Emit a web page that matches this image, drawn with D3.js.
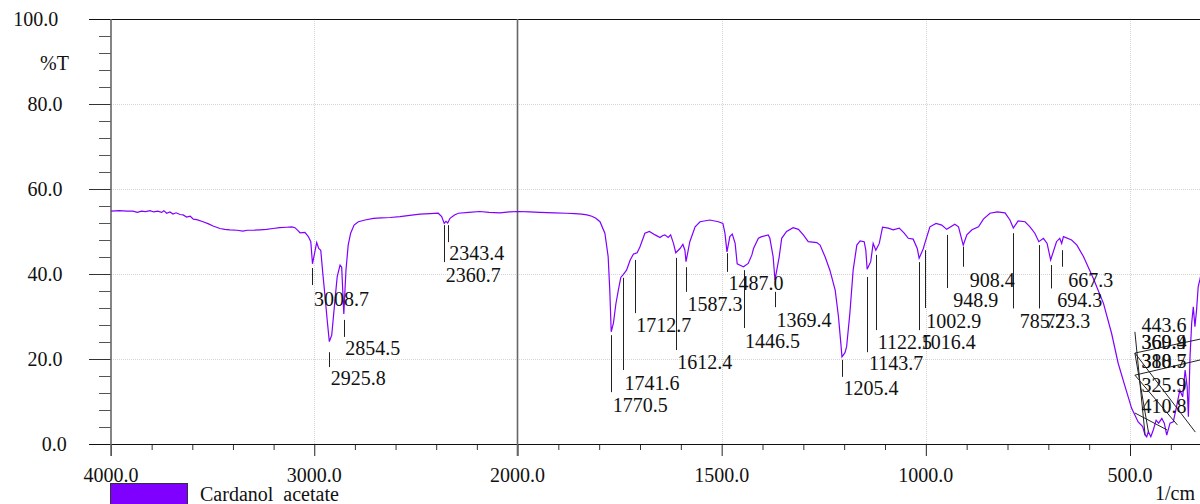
<!DOCTYPE html>
<html>
<head>
<meta charset="utf-8">
<script src="https://cdn.jsdelivr.net/npm/d3@7"></script>
<style>
  body { margin: 0; background: #fff; }
</style>
</head>
<body>
<svg id="chart" width="1200" height="504"></svg>
<script>
// spectrum: [wavenumber 1/cm, %T]
const spectrum = [
  [4000,54.8],[3960,54.9],[3920,54.8],[3892,54.8],[3870,54.5],[3850,54.8],[3830,54.7],[3808,54.9],
  [3790,54.6],[3770,54.8],[3751,54.5],[3740,54.9],[3726,54.3],[3710,54.6],[3695,54.1],[3680,54.4],
  [3660,54.0],[3645,53.9],[3628,53.4],[3610,53.6],[3595,52.9],[3578,52.8],[3547,52.3],[3520,51.8],
  [3498,51.3],[3464,50.7],[3440,50.5],[3415,50.4],[3380,50.3],[3351,50.1],[3330,50.3],[3300,50.3],
  [3267,50.4],[3235,50.5],[3203,50.7],[3170,50.9],[3136,51.0],[3110,51.1],[3095,50.9],[3080,50.2],
  [3070,49.7],[3046,49.8],[3029,48.8],[3017,47.6],[3008.7,42.4],[2988,47.4],[2978,46.0],[2968,45.6],
  [2958,40.2],[2947,34.7],[2936,29.0],[2925.8,24.1],[2914,25.6],[2898,33.9],[2887,39.4],[2873,42.1],
  [2865,41.6],[2854.5,30.6],[2844,40.9],[2833,46.8],[2821,49.6],[2804,51.5],[2783,52.3],[2750,52.7],
  [2709,53.1],[2670,53.2],[2627,53.3],[2578,53.5],[2530,53.8],[2480,54.1],[2430,54.2],[2390,54.3],
  [2373,53.5],[2360.7,51.9],[2352,52.4],[2343.4,52.0],[2332,53.1],[2310,53.9],[2291,54.3],[2240,54.5],
  [2185,54.7],[2140,54.5],[2086,54.4],[2040,54.6],[1998,54.7],[1970,54.6],[1945,54.5],[1910,54.4],
  [1880,54.3],[1860,54.2],[1843,54.1],[1830,53.9],[1818,53.6],[1808,53.1],[1798,52.3],[1786,49.6],
  [1778,44.1],[1774,36.2],[1770.5,26.4],[1765,28.5],[1759,33.0],[1753,36.2],[1747,39.2],[1741.6,39.8],
  [1733,40.9],[1724,43.3],[1716,44.7],[1712.7,44.8],[1707,45.0],[1700,46.4],[1688,49.6],[1677,50.0],
  [1663,49.2],[1651,48.6],[1645,49.0],[1639,49.2],[1631,48.6],[1625,49.2],[1618,47.2],[1612.4,45.0],
  [1602,46.0],[1595,47.0],[1590,45.6],[1587.3,42.9],[1578,47.6],[1565,51.1],[1553,52.3],[1529,52.7],
  [1508,52.3],[1497,51.9],[1492,49.6],[1487.0,45.2],[1480,48.8],[1474,49.4],[1467,47.2],[1462,42.4],
  [1451,41.9],[1446.5,41.7],[1435,42.5],[1426,44.5],[1422,46.0],[1410,48.4],[1402,48.8],[1386,49.2],
  [1382,48.4],[1374,44.1],[1369.4,38.6],[1359,44.1],[1353,48.4],[1341,50.0],[1325,50.9],[1312,50.5],
  [1300,49.2],[1288,47.6],[1267,47.4],[1259,46.8],[1247,44.1],[1235,40.9],[1222,36.2],[1214,30.0],
  [1208,23.5],[1205.4,20.5],[1198,21.5],[1194,22.9],[1186,30.8],[1178,40.9],[1169,46.8],[1161,47.8],
  [1151,47.6],[1147,45.6],[1143.7,41.1],[1135,42.9],[1129,47.2],[1122.5,45.6],[1114,47.2],[1106,51.0],
  [1092,50.8],[1080,50.4],[1065,50.8],[1053,49.6],[1043,48.4],[1031,48.2],[1021,46.0],[1016.4,43.7],
  [1006,46.0],[1002.9,47.1],[990,51.1],[975,51.9],[961,51.5],[948.9,50.5],[929,51.7],[920,51.1],
  [908.4,46.8],[899.5,49.2],[887,50.4],[871,51.1],[859,52.9],[843,54.3],[825,54.6],[806,54.4],
  [794,52.7],[785.7,50.8],[774,52.5],[757,52.3],[745,51.1],[733,49.6],[723.3,47.6],[712,48.4],
  [703,47.2],[694.3,43.3],[680,47.6],[672,48.4],[667.3,47.2],[663,48.8],[643,48.0],[630,46.8],
  [614,44.1],[590,39.0],[565,33.1],[545,26.0],[529,19.0],[512,13.5],[496,8.4],[480,5.2],
  [469,4.1],[463,2.1],[459,1.7],[455,2.9],[449,1.7],[443,3.3],[436,5.6],[430,4.9],
  [422,6.0],[416,4.9],[410,2.1],[402,4.9],[394,5.2],[386,8.8],[378,12.7],[371,11.1],
  [365,17.4],[360,13.5],[357,6.4],[353,20.5],[349,28.4],[345,32.3],[341,27.6],[337,31.5],
  [333,37.0],[329,38.6],[322,42.0],[315,40.0]
];

// peak marks: [wavenumber, mark top %T, mark bottom %T, label %T]
const peaks = [
  [3008.7,41.4,37.4,32.5],[2925.8,21.6,18.1,13.9],[2854.5,29.2,25.2,20.9],
  [2343.4,51.5,47.5,43.3],[2360.7,51.5,42.8,38.1],
  [1770.5,25.6,12.2,7.5],[1741.6,39.1,17.4,12.7],[1712.7,43.3,30.8,26.4],
  [1612.4,43.8,22.1,17.6],[1587.3,41.6,35.8,31.3],[1487.0,44.9,40.5,36.2],
  [1446.5,40.9,27.3,22.6],[1369.4,35.8,32.2,27.5],[1205.4,19.8,15.8,11.5],
  [1143.7,39.3,21.6,17.4],[1122.5,44.5,26.8,22.4],[1016.4,42.8,26.8,22.4],
  [1002.9,45.6,32.0,27.3],[948.9,49.2,36.7,32.2],[908.4,46.4,41.7,36.9],
  [785.7,49.6,31.9,27.3],[723.3,46.8,31.9,27.3],[694.3,42.1,36.6,32.2],
  [667.3,45.6,41.7,36.9]
];

// crowded peaks at low wavenumber: [label, label %T, leader start %T, leader end wavenumber, leader end %T]
const crowdedPeaks = [
  ["443.6",26.4,26.4,463,2.1],
  ["369.9",22.4,21.4,327,24.7],
  ["360.4",22.4,21.4,340,2.8],
  ["380.5",17.9,16.2,384,4.5],
  ["318.7",17.9,16.2,327,19.8],
  ["325.9",12.2,21.4,455,2.9],
  ["410.8",7.3,7.3,409,3.3]
];
const crowdedAnchor = 488;

const xMajor = [4000, 3000, 2000, 1500, 1000, 500];
const xMinor = [3800,3600,3400,3200,2800,2600,2400,2200,1900,1800,1700,1600,1400,1300,1200,1100,900,800,700,600,400];
const yMajor = [0, 20, 40, 60, 80, 100];
const yMinor = d3.range(0, 101, 4);
const xGrid = [3000, 1500, 1000, 500];
const yGrid = [20, 40, 60, 80];
const seriesName = "Cardanol  acetate";

const svg = d3.select("#chart");
const purple = "#8000ff";
const ink = "#111";
const fontFamily = "Liberation Serif";
const fontSize = 20;

// range changes scale at 2000 1/cm, like the instrument printout
const x = d3.scaleLinear().domain([4000, 2000, 500]).range([111, 517.5, 1130]);
const y = d3.scaleLinear().domain([0, 100]).range([444, 19]);

function label(g) {
  return g.append("text").attr("font-family", fontFamily).attr("font-size", fontSize).attr("fill", ink);
}

// grid
svg.append("g").selectAll("line").data(yGrid).join("line")
  .attr("x1", 111).attr("x2", 1200)
  .attr("y1", d => y(d) + 0.5).attr("y2", d => y(d) + 0.5)
  .attr("stroke", "#d4d4d4").attr("stroke-dasharray", "1,1");
svg.append("g").selectAll("line").data(xGrid).join("line")
  .attr("x1", d => Math.round(x(d)) + 0.5).attr("x2", d => Math.round(x(d)) + 0.5)
  .attr("y1", 19).attr("y2", 444)
  .attr("stroke", "#d4d4d4").attr("stroke-dasharray", "1,1");

// y axis
svg.append("g").attr("transform", "translate(111,0)").attr("color", "#555")
  .call(d3.axisLeft(y).tickValues(yMinor).tickSize(12).tickFormat(""))
  .call(g => g.select(".domain").remove());
svg.append("g").attr("transform", "translate(111,0)").attr("color", "#333")
  .call(d3.axisLeft(y).tickValues(yMajor).tickSize(22).tickFormat(""))
  .call(g => g.select(".domain").remove());
yMajor.forEach(v => {
  const s = v.toFixed(1);
  label(svg).attr("x", 58.3 + 4.2 * (5 - s.length)).attr("y", y(v) + 7)
    .attr("text-anchor", "end").text(s);
});
label(svg).attr("x", 69).attr("y", 70).attr("text-anchor", "end").text("%T");

// x axis
svg.append("g").attr("transform", "translate(0,444)").attr("color", "#333")
  .call(d3.axisBottom(x).tickValues(xMinor).tickSize(6).tickFormat(""))
  .call(g => g.select(".domain").remove());
svg.append("g").attr("transform", "translate(0,444)").attr("color", "#222")
  .call(d3.axisBottom(x).tickValues(xMajor).tickSize(12).tickFormat(""))
  .call(g => g.select(".domain").remove());
xMajor.forEach(v => {
  label(svg).attr("x", x(v)).attr("y", 482).attr("text-anchor", "middle").text(v.toFixed(1));
});
label(svg).attr("x", 1195).attr("y", 500).attr("text-anchor", "end").text("1/cm");

// frame lines
svg.append("line").attr("x1", 89).attr("x2", 1200).attr("y1", 19.5).attr("y2", 19.5).attr("stroke", ink);
svg.append("line").attr("x1", 89).attr("x2", 1200).attr("y1", 444.5).attr("y2", 444.5).attr("stroke", ink);
svg.append("line").attr("x1", 111).attr("x2", 111).attr("y1", 19).attr("y2", 456)
  .attr("stroke", "#666").attr("stroke-width", 1.6);
svg.append("line").attr("x1", x(2000)).attr("x2", x(2000)).attr("y1", 19).attr("y2", 456)
  .attr("stroke", "#666").attr("stroke-width", 1.6);

// spectrum
const line = d3.line().x(d => x(d[0])).y(d => y(d[1]));
svg.append("path").datum(spectrum)
  .attr("fill", "none").attr("stroke", purple).attr("stroke-width", 1.2)
  .attr("d", line);

// peak marks
const pk = svg.append("g");
pk.selectAll("line").data(peaks).join("line")
  .attr("x1", d => Math.round(x(d[0])) + 0.5).attr("x2", d => Math.round(x(d[0])) + 0.5)
  .attr("y1", d => y(d[1])).attr("y2", d => y(d[2]))
  .attr("stroke", "#222").attr("stroke-width", 1);
peaks.forEach(d => {
  label(pk).attr("x", x(d[0]) + 29).attr("y", y(d[3]))
    .attr("text-anchor", "middle").text(d[0].toFixed(1));
});

// crowded peaks with leader lines
const cp = svg.append("g");
cp.selectAll("line").data(crowdedPeaks).join("line")
  .attr("x1", x(crowdedAnchor)).attr("y1", d => y(d[2]))
  .attr("x2", d => x(d[3])).attr("y2", d => y(d[4]))
  .attr("stroke", "#222").attr("stroke-width", 1);
crowdedPeaks.forEach(d => {
  label(cp).attr("x", x(crowdedAnchor) + 29).attr("y", y(d[1]))
    .attr("text-anchor", "middle").text(d[0]);
});

// legend
svg.append("rect").attr("x", 110.5).attr("y", 483.5).attr("width", 77).attr("height", 25)
  .attr("fill", purple).attr("stroke", "#333");
label(svg).attr("x", 200).attr("y", 501).style("white-space", "pre").text(seriesName);
</script>
</body>
</html>
